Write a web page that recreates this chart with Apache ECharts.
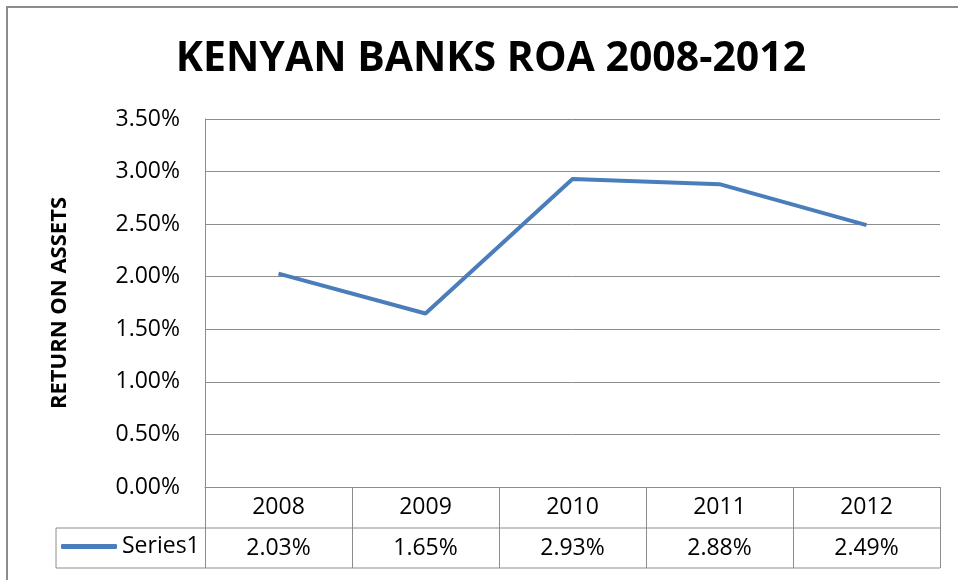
<!DOCTYPE html>
<html><head><meta charset="utf-8">
<script src="https://cdn.jsdelivr.net/npm/echarts@6/dist/echarts.min.js"></script>
<style>html,body{margin:0;padding:0;background:#fff}#c{width:958px;height:580px}</style>
</head><body><div id="c"></div>
<script>
const categories = ['2008', '2009', '2010', '2011', '2012'];
const seriesName = 'Series1';
const roaValues = [2.03, 1.65, 2.93, 2.88, 2.49];
const yTicks = [0, 0.5, 1, 1.5, 2, 2.5, 3, 3.5];

const FONT = '"Open Sans", sans-serif';
const chart = echarts.init(document.getElementById('c'), null, {renderer: 'canvas'});
const G = {left: 205, right: 18, top: 119, bottom: 93};
const tableBottom = 568, row1 = 41, tableLeft = 56;

chart.setOption({
  animation: false,
  title: {
    text: 'KENYAN BANKS ROA 2008-2012', left: 486, top: 34, textAlign: 'center',
    textStyle: {fontFamily: FONT, fontWeight: 'bold', fontSize: 41, color: '#000'}
  },
  legend: {
    data: [{name: seriesName, icon: 'roundRect'}], left: 61, top: 535, padding: 0,
    itemWidth: 56, itemHeight: 5,
    textStyle: {fontFamily: FONT, fontSize: 23, color: '#000'}
  },
  grid: G,
  xAxis: {
    type: 'category', data: categories, boundaryGap: true,
    axisLine: {lineStyle: {color: '#8c8c8c', width: 1}},
    axisTick: {show: true, length: tableBottom - 487, inside: false, lineStyle: {color: '#8c8c8c'}},
    axisLabel: {
      margin: 0, interval: 0,
      formatter: (v, i) => '{y|' + v + '}\n{v|' + roaValues[i].toFixed(2) + '%}',
      rich: {
        y: {fontFamily: FONT, fontSize: 23, color: '#000', lineHeight: 41, height: 41, verticalAlign: 'middle'},
        v: {fontFamily: FONT, fontSize: 23, color: '#000', lineHeight: 40, height: 40, verticalAlign: 'middle'}
      }
    },
    splitLine: {show: false}
  },
  yAxis: {
    type: 'value', min: yTicks[0], max: yTicks[yTicks.length - 1], interval: 0.5,
    name: 'RETURN ON ASSETS', nameLocation: 'middle', nameGap: 134, nameRotate: 90,
    nameTextStyle: {fontFamily: FONT, fontWeight: 'bold', fontSize: 22, color: '#000'},
    axisLine: {show: true, lineStyle: {color: '#8c8c8c', width: 1}},
    axisTick: {show: false},
    axisLabel: {margin: 25, fontFamily: FONT, fontSize: 23, color: '#000',
      formatter: v => v.toFixed(2) + '%'},
    splitLine: {lineStyle: {color: '#8c8c8c', width: 1}}
  },
  series: [{
    name: seriesName, type: 'line', data: roaValues, symbol: 'none',
    lineStyle: {color: '#4a7ebb', width: 4}, itemStyle: {color: '#4a7ebb'}
  }]
});

const yZero = chart.convertToPixel({yAxisIndex: 0}, 0);
const xRight = 958 - G.right;
chart.setOption({
  graphic: [
    {type: 'rect', shape: {x: 7, y: 7, width: 1000, height: 1000}, style: {fill: 'none', stroke: '#8c8c8c', lineWidth: 2}, silent: true},
    {type: 'line', shape: {x1: tableLeft, y1: yZero + row1, x2: xRight, y2: yZero + row1}, style: {stroke: '#8c8c8c', lineWidth: 1}},
    {type: 'line', shape: {x1: tableLeft, y1: tableBottom, x2: xRight, y2: tableBottom}, style: {stroke: '#8c8c8c', lineWidth: 1}},
    {type: 'line', shape: {x1: tableLeft, y1: yZero + row1, x2: tableLeft, y2: tableBottom}, style: {stroke: '#8c8c8c', lineWidth: 1}}
  ]
});
</script></body></html>
